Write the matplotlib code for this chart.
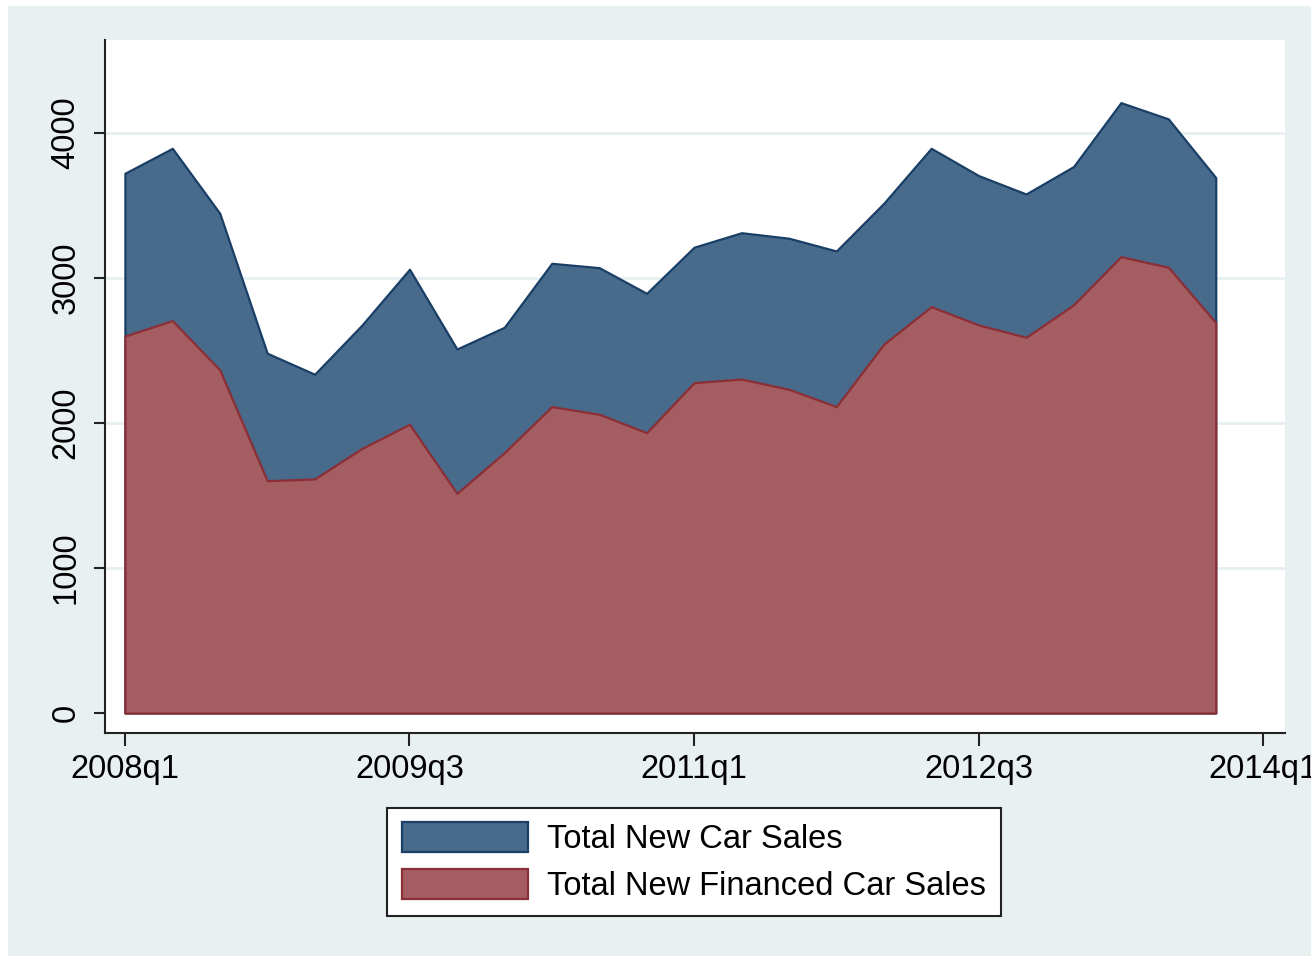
import matplotlib
matplotlib.use("Agg")
import matplotlib.pyplot as plt
from matplotlib.patches import Rectangle
import numpy as np

plt.rcParams['font.family'] = ['Liberation Sans', 'DejaVu Sans']

# quarterly data, 2008q1 - 2013q4
quarters = ["2008q1", "2008q2", "2008q3", "2008q4",
            "2009q1", "2009q2", "2009q3", "2009q4",
            "2010q1", "2010q2", "2010q3", "2010q4",
            "2011q1", "2011q2", "2011q3", "2011q4",
            "2012q1", "2012q2", "2012q3", "2012q4",
            "2013q1", "2013q2", "2013q3", "2013q4"]
total_sales = [3722, 3894, 3446, 2481, 2336, 2676, 3060, 2510,
               2660, 3101, 3071, 2894, 3212, 3312, 3274, 3186,
               3515, 3894, 3706, 3579, 3768, 4209, 4097, 3692]
financed_sales = [2600, 2706, 2366, 1602, 1614, 1825, 1991, 1515,
                  1795, 2113, 2060, 1933, 2278, 2303, 2232, 2113,
                  2543, 2802, 2676, 2591, 2814, 3147, 3074, 2692]

xtick_pos = [0, 6, 12, 18, 24]
xtick_labels = ["2008q1", "2009q3", "2011q1", "2012q3", "2014q1"]
ytick_vals = [0, 1000, 2000, 3000, 4000]

bg = "#e8f0f2"
blue_fill, blue_edge = "#486a8b", "#1a3f66"
red_fill, red_edge = "#a45d60", "#8c2e36"
fs = 23.5

fig = plt.figure(figsize=(13.11, 9.56), dpi=100, facecolor="white")
# stata style outer region (slightly cropped on top/left in the original)
fig.patches.append(Rectangle((8 / 1311, 0), 1 - 8 / 1311, 1 - 6 / 956,
                             transform=fig.transFigure, facecolor=bg,
                             edgecolor="none", zorder=-10))

ax = fig.add_axes([105 / 1311, 1 - 733 / 956, 1180 / 1311, 693 / 956])
ax.set_facecolor("white")

x = np.arange(len(quarters))
ax.fill_between(x, 0, total_sales, facecolor=blue_fill, edgecolor=blue_edge,
                linewidth=1.6, label="Total New Car Sales", zorder=2)
ax.fill_between(x, 0, financed_sales, facecolor=red_fill, edgecolor=red_edge,
                linewidth=1.6, label="Total New Financed Car Sales", zorder=3)

ax.set_xlim(-0.42, 24.46)
ax.set_ylim(-138, 4641)

# grid
ax.set_yticks(ytick_vals)
ax.set_yticklabels([str(v) for v in ytick_vals], rotation=90, va="center",
                   fontsize=fs)
for v in ytick_vals[1:]:
    ax.axhline(v, color="#e6eff1", linewidth=2, zorder=1)

ax.set_xticks(xtick_pos)
ax.set_xticklabels(xtick_labels, fontsize=fs)

# spines
for s in ["top", "right"]:
    ax.spines[s].set_visible(False)
for s in ["left", "bottom"]:
    ax.spines[s].set_color("#222222")
    ax.spines[s].set_linewidth(1.5)
ax.tick_params(axis="y", length=8, width=1.5, color="#222222", pad=9)
ax.tick_params(axis="x", length=9, width=1.5, color="#222222", pad=6)

handles, labels = ax.get_legend_handles_labels()
leg = fig.legend(handles, labels, loc="center",
                 bbox_to_anchor=(694 / 1311, 1 - 862 / 956),
                 fontsize=fs, ncol=1, frameon=True, fancybox=False,
                 handlelength=3.85, handleheight=1.05, handletextpad=0.6,
                 labelspacing=0.4, borderpad=0.45)
leg.get_frame().set_edgecolor("#222222")
leg.get_frame().set_linewidth(1.5)
leg.get_frame().set_facecolor("white")
leg.get_frame().set_alpha(1)

fig.savefig("out.png", dpi=100, facecolor=fig.get_facecolor())
